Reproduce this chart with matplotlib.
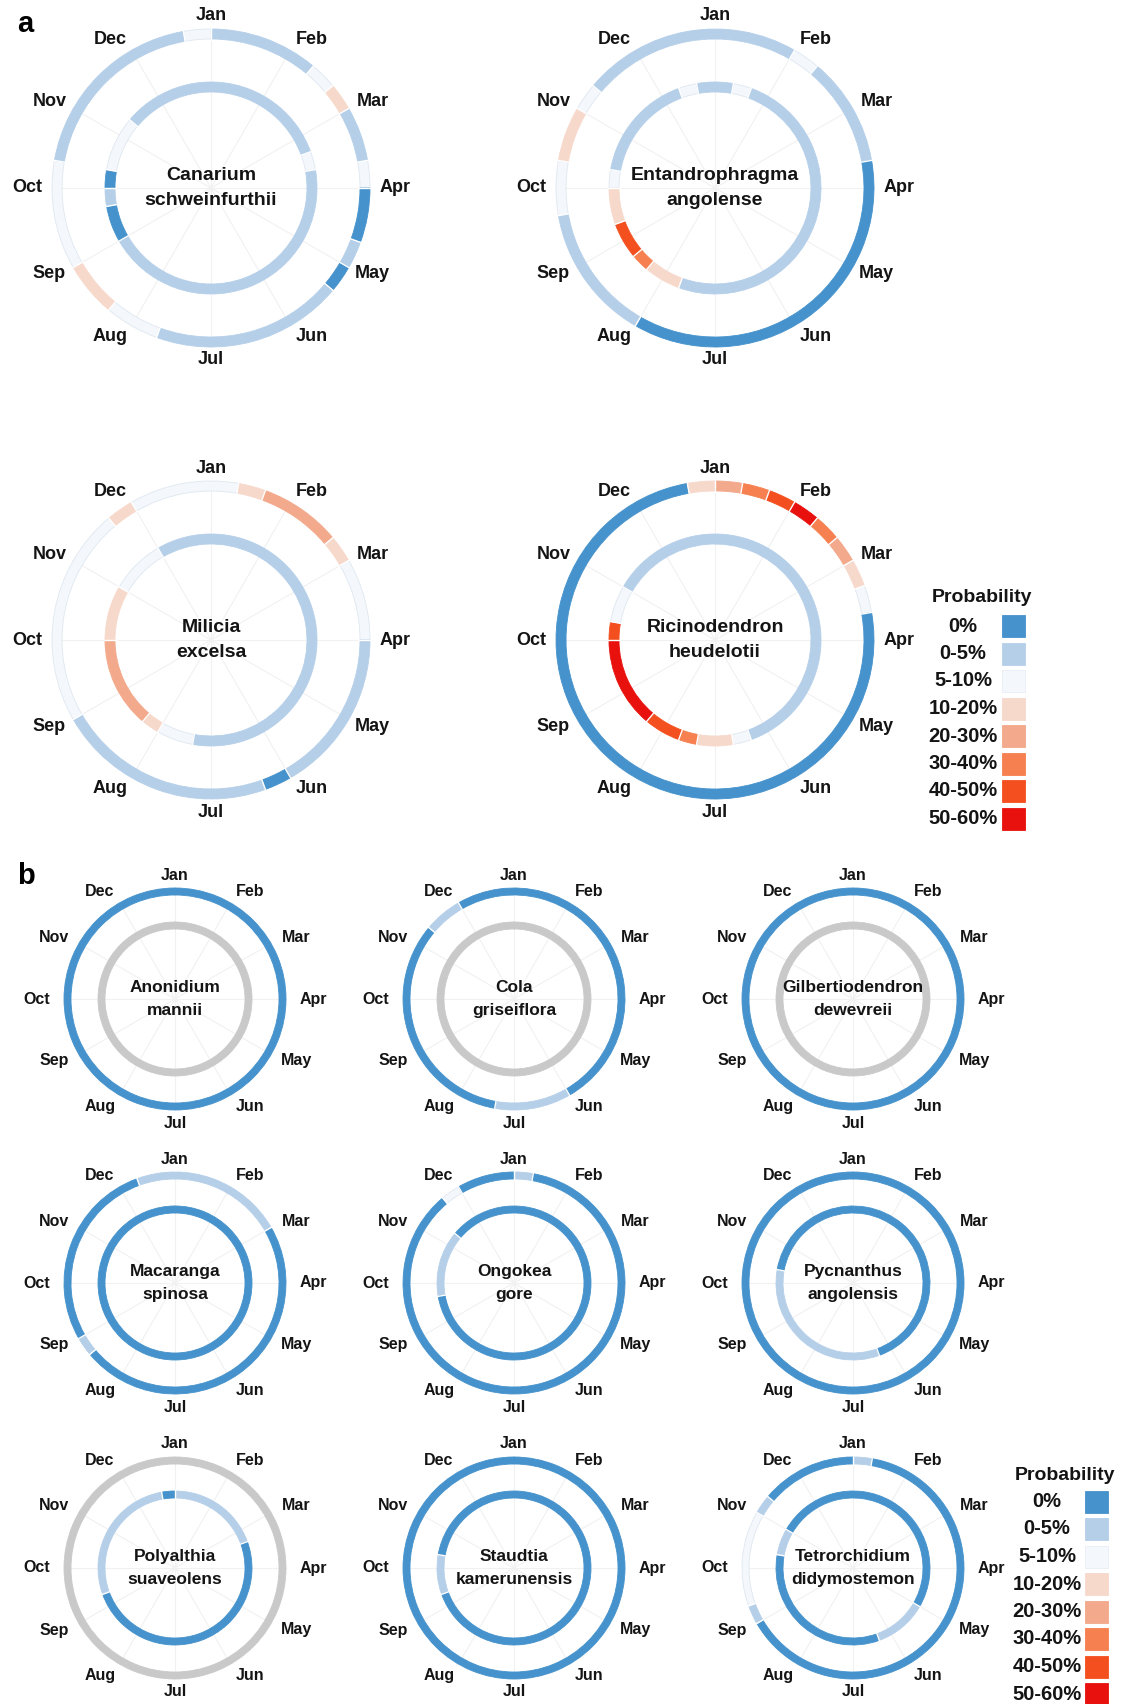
import numpy as np
import matplotlib.pyplot as plt

plt.rcParams['font.family'] = ['Liberation Sans', 'DejaVu Sans']
plt.rcParams['font.weight'] = 'bold'

months = ['Jan', 'Feb', 'Mar', 'Apr', 'May', 'Jun', 'Jul', 'Aug', 'Sep', 'Oct', 'Nov', 'Dec']
prob_classes = ['0%', '0-5%', '5-10%', '10-20%', '20-30%', '30-40%', '40-50%', '50-60%']
class_colors = ['#4592cc', '#b5cfe9', '#f4f8fd', '#f7d9cc', '#f3a98b', '#f6804f', '#f4501f', '#e8110d']
no_data_color = '#c9c9c9'
NO_DATA = 8

# probability class per dekad (3 per month, Jan..Dec); 8 = no data
canarium_outer = [1, 1, 1, 1, 2, 3, 1, 1, 2, 0, 0, 1, 0, 1, 1, 1, 1, 1,
                  1, 1, 2, 2, 3, 3, 2, 2, 2, 2, 1, 1, 1, 1, 1, 1, 1, 2]
canarium_inner = [1, 1, 1, 1, 1, 1, 1, 2, 1, 1, 1, 1, 1, 1, 1, 1, 1, 1,
                  1, 1, 1, 1, 1, 1, 0, 0, 1, 0, 2, 2, 2, 1, 1, 1, 1, 1]
entandro_outer = [1, 1, 1, 2, 1, 1, 1, 1, 0, 0, 0, 0, 0, 0, 0, 0, 0, 0,
                  0, 0, 0, 1, 1, 1, 1, 1, 2, 2, 3, 3, 2, 1, 1, 1, 1, 1]
entandro_inner = [1, 2, 1, 1, 1, 1, 1, 1, 1, 1, 1, 1, 1, 1, 1, 1, 1, 1,
                  1, 1, 3, 3, 5, 6, 6, 3, 3, 2, 1, 1, 1, 1, 1, 1, 2, 1]
milicia_outer = [2, 3, 4, 4, 4, 3, 2, 2, 2, 1, 1, 1, 1, 1, 1, 0, 1, 1,
                 1, 1, 1, 1, 1, 1, 2, 2, 2, 2, 2, 2, 2, 2, 3, 2, 2, 2]
milicia_inner = [1, 1, 1, 1, 1, 1, 1, 1, 1, 1, 1, 1, 1, 1, 1, 1, 1, 1,
                 1, 2, 2, 3, 4, 4, 4, 4, 4, 3, 3, 3, 2, 2, 2, 1, 1, 1]
ricino_outer = [4, 5, 6, 7, 5, 4, 3, 2, 0, 0, 0, 0, 0, 0, 0, 0, 0, 0,
                0, 0, 0, 0, 0, 0, 0, 0, 0, 0, 0, 0, 0, 0, 0, 0, 0, 3]
ricino_inner = [1, 1, 1, 1, 1, 1, 1, 1, 1, 1, 1, 1, 1, 1, 1, 1, 2, 3,
                3, 5, 6, 6, 7, 7, 7, 7, 7, 6, 2, 2, 1, 1, 1, 1, 1, 1]

anonidium_outer = [0, 0, 0, 0, 0, 0, 0, 0, 0, 0, 0, 0, 0, 0, 0, 0, 0, 0,
                   0, 0, 0, 0, 0, 0, 0, 0, 0, 0, 0, 0, 0, 0, 0, 0, 0, 0]
anonidium_inner = [8, 8, 8, 8, 8, 8, 8, 8, 8, 8, 8, 8, 8, 8, 8, 8, 8, 8,
                   8, 8, 8, 8, 8, 8, 8, 8, 8, 8, 8, 8, 8, 8, 8, 8, 8, 8]
cola_outer = [0, 0, 0, 0, 0, 0, 0, 0, 0, 0, 0, 0, 0, 0, 0, 1, 1, 1,
              1, 0, 0, 0, 0, 0, 0, 0, 0, 0, 0, 0, 0, 1, 1, 0, 0, 0]
cola_inner = [8, 8, 8, 8, 8, 8, 8, 8, 8, 8, 8, 8, 8, 8, 8, 8, 8, 8,
              8, 8, 8, 8, 8, 8, 8, 8, 8, 8, 8, 8, 8, 8, 8, 8, 8, 8]
gilbert_outer = [0, 0, 0, 0, 0, 0, 0, 0, 0, 0, 0, 0, 0, 0, 0, 0, 0, 0,
                 0, 0, 0, 0, 0, 0, 0, 0, 0, 0, 0, 0, 0, 0, 0, 0, 0, 0]
gilbert_inner = [8, 8, 8, 8, 8, 8, 8, 8, 8, 8, 8, 8, 8, 8, 8, 8, 8, 8,
                 8, 8, 8, 8, 8, 8, 8, 8, 8, 8, 8, 8, 8, 8, 8, 8, 8, 8]
macaranga_outer = [1, 1, 1, 1, 1, 1, 0, 0, 0, 0, 0, 0, 0, 0, 0, 0, 0, 0,
                   0, 0, 0, 0, 0, 1, 0, 0, 0, 0, 0, 0, 0, 0, 0, 0, 1, 1]
macaranga_inner = [0, 0, 0, 0, 0, 0, 0, 0, 0, 0, 0, 0, 0, 0, 0, 0, 0, 0,
                   0, 0, 0, 0, 0, 0, 0, 0, 0, 0, 0, 0, 0, 0, 0, 0, 0, 0]
ongokea_outer = [1, 0, 0, 0, 0, 0, 0, 0, 0, 0, 0, 0, 0, 0, 0, 0, 0, 0,
                 0, 0, 0, 0, 0, 0, 0, 0, 0, 0, 0, 0, 0, 0, 2, 0, 0, 0]
ongokea_inner = [0, 0, 0, 0, 0, 0, 0, 0, 0, 0, 0, 0, 0, 0, 0, 0, 0, 0,
                 0, 0, 0, 0, 0, 0, 0, 0, 1, 1, 1, 1, 1, 0, 0, 0, 0, 0]
pycnanthus_outer = [0, 0, 0, 0, 0, 0, 0, 0, 0, 0, 0, 0, 0, 0, 0, 0, 0, 0,
                    0, 0, 0, 0, 0, 0, 0, 0, 0, 0, 0, 0, 0, 0, 0, 0, 0, 0]
pycnanthus_inner = [0, 0, 0, 0, 0, 0, 0, 0, 0, 0, 0, 0, 0, 0, 0, 0, 1, 1,
                    1, 1, 1, 1, 1, 1, 1, 1, 1, 1, 0, 0, 0, 0, 0, 0, 0, 0]
polyalthia_outer = [8, 8, 8, 8, 8, 8, 8, 8, 8, 8, 8, 8, 8, 8, 8, 8, 8, 8,
                    8, 8, 8, 8, 8, 8, 8, 8, 8, 8, 8, 8, 8, 8, 8, 8, 8, 8]
polyalthia_inner = [1, 1, 1, 1, 1, 1, 1, 0, 0, 0, 0, 0, 0, 0, 0, 0, 0, 0,
                    0, 0, 0, 0, 0, 0, 0, 1, 1, 1, 1, 1, 1, 1, 1, 1, 1, 0]
staudtia_outer = [0, 0, 0, 0, 0, 0, 0, 0, 0, 0, 0, 0, 0, 0, 0, 0, 0, 0,
                  0, 0, 0, 0, 0, 0, 0, 0, 0, 0, 0, 0, 0, 0, 0, 0, 0, 0]
staudtia_inner = [0, 0, 0, 0, 0, 0, 0, 0, 0, 0, 0, 0, 0, 0, 0, 0, 0, 0,
                  0, 0, 0, 0, 0, 0, 0, 1, 1, 1, 0, 0, 0, 0, 0, 0, 0, 0]
tetror_outer = [1, 0, 0, 0, 0, 0, 0, 0, 0, 0, 0, 0, 0, 0, 0, 0, 0, 0,
                0, 0, 0, 0, 0, 0, 1, 2, 2, 2, 2, 2, 1, 0, 0, 0, 0, 0]
tetror_inner = [0, 0, 0, 0, 0, 0, 0, 0, 0, 0, 0, 0, 1, 1, 1, 1, 0, 0,
                0, 0, 0, 0, 0, 0, 0, 0, 0, 0, 1, 1, 0, 0, 0, 0, 0, 0]

species_a = [
    ('Canarium\nschweinfurthii', canarium_outer, canarium_inner),
    ('Entandrophragma\nangolense', entandro_outer, entandro_inner),
    ('Milicia\nexcelsa', milicia_outer, milicia_inner),
    ('Ricinodendron\nheudelotii', ricino_outer, ricino_inner),
]
species_b = [
    ('Anonidium\nmannii', anonidium_outer, anonidium_inner),
    ('Cola\ngriseiflora', cola_outer, cola_inner),
    ('Gilbertiodendron\ndewevreii', gilbert_outer, gilbert_inner),
    ('Macaranga\nspinosa', macaranga_outer, macaranga_inner),
    ('Ongokea\ngore', ongokea_outer, ongokea_inner),
    ('Pycnanthus\nangolensis', pycnanthus_outer, pycnanthus_inner),
    ('Polyalthia\nsuaveolens', polyalthia_outer, polyalthia_inner),
    ('Staudtia\nkamerunensis', staudtia_outer, staudtia_inner),
    ('Tetrorchidium\ndidymostemon', tetror_outer, tetror_inner),
]

W, H = 1126, 1704
fig = plt.figure(figsize=(W / 100, H / 100), dpi=100)

# overlay in pixel coordinates for panel letters and legends
over = fig.add_axes([0, 0, 1, 1])
over.set_xlim(0, W)
over.set_ylim(H, 0)
over.set_axis_off()

TEXT = '#141414'


def ring_axes(cx, cy, half):
    ax = fig.add_axes([(cx - half) / W, 1 - (cy + half) / H, 2 * half / W, 2 * half / H],
                      projection='polar')
    ax.set_theta_zero_location('N')
    ax.set_theta_direction(-1)
    ax.set_ylim(0, half)
    ax.set_axis_off()
    return ax


def draw_ring(ax, classes, r_in, r_out):
    n = len(classes)
    step = 2 * np.pi / n
    # start at a class change so no run wraps past the top
    start = next((i for i in range(n) if classes[i] != classes[i - 1]), 0)
    seq = classes[start:] + classes[:start]
    i = 0
    while i < n:
        j = i
        while j < n and seq[j] == seq[i]:
            j += 1
        c = seq[i]
        color = no_data_color if c == NO_DATA else class_colors[c]
        edge = '#dfe7f0' if c == 2 else color
        ax.bar((start + i) * step, r_out - r_in, width=(j - i) * step, bottom=r_in,
               align='edge', color=color, edgecolor=edge, linewidth=0.6, zorder=2)
        if j - i < n:
            th = (start + i) * step
            ax.plot([th, th], [r_in - 1, r_out + 1], color='white', lw=1.0, zorder=3)
        i = j


def draw_chart(cx, cy, name, outer, inner, geo):
    ax = ring_axes(cx, cy, geo['half'])
    for m in range(12):
        th = np.deg2rad(30 * m)
        ax.plot([th, th], [0, geo['outer'][1]], color='#f1f1f1', lw=0.8, zorder=1)
    draw_ring(ax, outer, *geo['outer'])
    draw_ring(ax, inner, *geo['inner'])
    for m, mon in enumerate(months):
        th = np.deg2rad(30 * m)
        s, c = np.sin(th), np.cos(th)
        sgn = 0 if abs(s) < 1e-6 else np.sign(s)
        dx = geo['lab_rx'] * s + geo['lab_pad'] * sgn
        dy = geo['lab_ry'] * c
        ax.text(np.arctan2(dx, dy), np.hypot(dx, dy), mon, ha='center', va='center',
                fontsize=geo['month_fs'], fontweight='bold', color=TEXT, clip_on=False)
    ax.text(0, 0, name, ha='center', va='center', fontsize=geo['name_fs'], fontweight='bold',
            color=TEXT, linespacing=geo['spacing'], zorder=5)


geo_a = dict(half=215, outer=(149, 159), inner=(96, 106), lab_rx=167, lab_pad=17, lab_ry=172,
             month_fs=13, name_fs=14, spacing=1.55)
geo_b = dict(half=150, outer=(104, 111), inner=(70, 77), lab_rx=126, lab_pad=12, lab_ry=124,
             month_fs=11.5, name_fs=12.5, spacing=1.6)

centers_a = [(211, 188), (715, 188), (211, 640), (715, 640)]
for (cx, cy), (name, outer, inner) in zip(centers_a, species_a):
    draw_chart(cx, cy, name, outer, inner, geo_a)

cols_b = [175, 514, 853]
rows_b = [999, 1283, 1568]
centers_b = [(x, y) for y in rows_b for x in cols_b]
for (cx, cy), (name, outer, inner) in zip(centers_b, species_b):
    draw_chart(cx, cy, name, outer, inner, geo_b)


def draw_legend(x_title, y_title, x_label, x_swatch, y0):
    over.text(x_title, y_title, 'Probability', ha='center', va='center', fontsize=14,
              fontweight='bold', color=TEXT)
    ys = y0 + 27.5 * np.arange(len(prob_classes))
    edges = ['#e8eef5' if k == 2 else col for k, col in enumerate(class_colors)]
    over.barh(ys, 23, left=x_swatch, height=22, color=class_colors, edgecolor=edges, linewidth=0.6)
    for y, lab in zip(ys, prob_classes):
        over.text(x_label, y, lab, ha='center', va='center', fontsize=14.5, fontweight='bold',
                  color=TEXT)


draw_legend(982, 597, 963, 1002, 626)
draw_legend(1065, 1475, 1047, 1085, 1501.5)

over.text(25, 24, 'a', ha='center', va='center', fontsize=21, fontweight='bold', color='black')
over.text(26, 876, 'b', ha='center', va='center', fontsize=21, fontweight='bold', color='black')

fig.savefig('out.png', dpi=100)
